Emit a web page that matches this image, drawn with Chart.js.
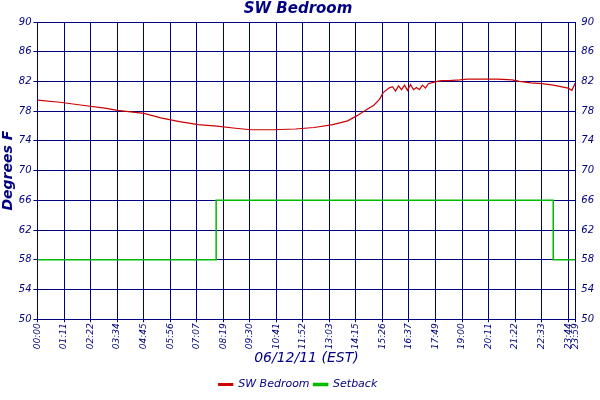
<!DOCTYPE html><html><head><meta charset="utf-8">
<script src="https://cdn.jsdelivr.net/npm/chart.js@4"></script>
<style>html,body{margin:0;background:#fff}#w{width:600px;height:400px}</style></head><body><div id="w"><canvas id="c"></canvas></div>
<script>
const tempTimes=[0,60,120,180,214,285,330,380,430,480,530,570,630,690,740,790,830,855,880,900,915,925,940,950,958,966,974,982,990,998,1006,1014,1022,1030,1038,1046,1054,1062,1070,1080,1100,1130,1150,1190,1230,1270,1290,1320,1350,1380,1400,1420,1430,1439];
const tempVals=[79.5,79.2,78.8,78.4,78.1,77.7,77.1,76.6,76.2,76.0,75.7,75.5,75.5,75.6,75.8,76.2,76.7,77.4,78.2,78.8,79.6,80.5,81.1,81.3,80.7,81.4,80.9,81.5,80.8,81.6,80.9,81.2,80.9,81.5,81.1,81.7,81.8,81.9,82.0,82.1,82.1,82.2,82.3,82.3,82.3,82.2,82.0,81.8,81.7,81.5,81.3,81.1,80.8,81.8];
const setTimes=[0,478,478,1380,1380,1439];
const setVals=[58,58,66,66,58,58];
const xTickVals=[0,71,142,213,284,355,426,497,568,639,710,781,852,923,994,1065,1136,1207,1278,1349,1420,1439];
const xTickLabels=['00:00','01:11','02:22','03:34','04:45','05:56','07:07','08:19','09:30','10:41','11:52','13:03','14:15','15:26','16:37','17:49','19:00','20:11','21:22','22:33','23:44','23:59'];
const navy='#000080';
const F='"DejaVu Sans"';
const yAx=(pos)=>({type:'linear',position:pos,min:50,max:90,afterBuildTicks:a=>{a.ticks=[];for(let v=50;v<=90;v+=4)a.ticks.push({value:v});},
 ticks:{color:navy,font:{family:F,style:'italic',size:10},padding:2},grid:{color:navy,drawTicks:true,tickLength:4,display:pos==='left'},border:{color:navy}});
new Chart(document.getElementById('c'),{type:'line',
data:{datasets:[
 {label:'SW Bedroom',data:tempTimes.map((t,i)=>({x:t,y:tempVals[i]})),borderColor:'#cc0000',backgroundColor:'#cc0000',borderWidth:1.2,pointRadius:0,tension:0},
 {label:'Setback',data:setTimes.map((t,i)=>({x:t,y:setVals[i]})),borderColor:'#00bb00',backgroundColor:'#00bb00',borderWidth:1.5,pointRadius:0,tension:0}]},
options:{responsive:true,maintainAspectRatio:false,animation:false,
 layout:{padding:{left:0,right:4,top:0,bottom:0}},
 plugins:{title:{display:true,text:'SW Bedroom',color:navy,font:{family:F,style:'italic',weight:'bold',size:15},padding:{top:0,bottom:4}},
  legend:{position:'bottom',labels:{color:navy,font:{family:F,style:'italic',size:11},boxWidth:14,boxHeight:2,padding:4}},tooltip:{enabled:false}},
 scales:{
  x:{type:'linear',min:0,max:1439,afterBuildTicks:a=>{a.ticks=xTickVals.map(v=>({value:v}));},
   ticks:{color:navy,font:{family:F,style:'italic',size:9},padding:1,maxRotation:90,minRotation:90,autoSkip:false,callback:(v,i)=>xTickLabels[i]},
   grid:{color:navy,tickLength:3},border:{color:navy},
   title:{display:true,text:'06/12/11 (EST)',color:navy,font:{family:F,style:'italic',size:14},padding:{top:0,bottom:8}}},
  y:Object.assign(yAx('left'),{title:{display:true,text:'Degrees F',color:navy,font:{family:F,style:'italic',weight:'bold',size:14},padding:0}}),
  y2:yAx('right')
 }}});
</script></body></html>
